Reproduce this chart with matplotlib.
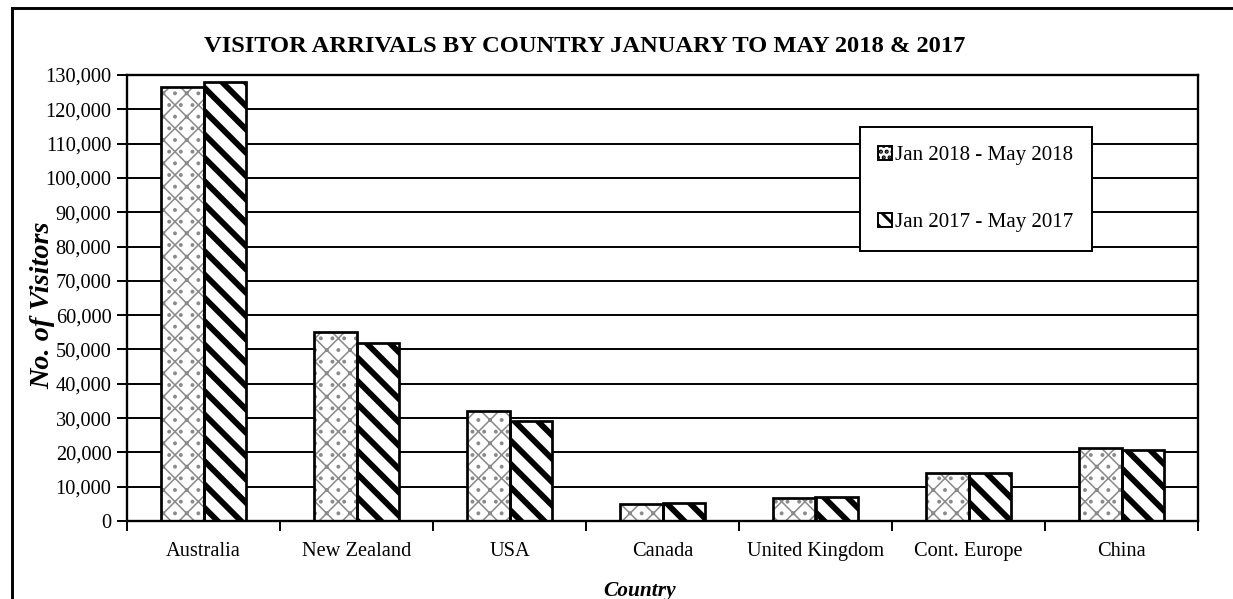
import matplotlib
matplotlib.use("Agg")
import matplotlib.pyplot as plt
import numpy as np
from matplotlib.ticker import FuncFormatter, FixedLocator
from matplotlib.lines import Line2D
from matplotlib.patches import Patch

countries = ["Australia", "New Zealand", "USA", "Canada", "United Kingdom",
             "Cont. Europe", "China"]
arrivals_2018 = [126500, 55000, 32000, 5100, 6600, 14000, 21400]
arrivals_2017 = [128000, 52000, 29200, 5300, 6900, 14000, 20700]
series_labels = ["Jan 2018 - May 2018", "Jan 2017 - May 2017"]

plt.rcParams.update({
    "font.family": "serif",
    "font.serif": ["Liberation Serif", "DejaVu Serif"],
})

DPI = 140
fig = plt.figure(figsize=(1233 / DPI, 599 / DPI), dpi=DPI)
ax = fig.add_axes([127 / 1233, 78 / 599, (1198 - 127) / 1233, (521 - 75) / 599])

x = np.arange(len(countries))
w = 0.28


def hatched(xpos, vals, hatch, hcolor, hlw):
    layer = ax.bar(xpos, vals, w, color="white", edgecolor=hcolor,
                   linewidth=0, hatch=hatch, zorder=2)
    for p in layer:
        if hasattr(p, "set_hatch_linewidth"):
            p.set_hatch_linewidth(hlw)
    ax.bar(xpos, vals, w, fill=False, edgecolor="black", linewidth=1.4,
           zorder=3)


plt.rcParams["hatch.linewidth"] = 0.8
hatched(x - w / 2, arrivals_2018, "xx..", "#8a8a8a", 0.8)
h18 = Patch(facecolor="white", edgecolor="black", hatch="....", lw=1.0)
plt.rcParams["hatch.linewidth"] = 3.0
hatched(x + w / 2, arrivals_2017, "\\\\", "black", 3.0)
plt.rcParams["hatch.linewidth"] = 1.5
h17 = Patch(facecolor="white", edgecolor="black", hatch="\\\\\\", lw=1.0)

ax.set_xlim(-0.5, len(countries) - 0.5)
ax.set_ylim(0, 130000)
ax.set_yticks(np.arange(0, 130001, 10000))
ax.yaxis.set_major_formatter(FuncFormatter(lambda v, p: f"{int(v):,}"))
ax.set_xticks(x)
ax.set_xticklabels(countries)
ax.xaxis.set_minor_locator(FixedLocator(np.arange(-0.5, len(countries), 1.0)))
ax.tick_params(axis="x", which="major", length=0, pad=11, labelsize=10.5)
ax.tick_params(axis="x", which="minor", length=5, width=1, direction="out")
ax.tick_params(axis="y", length=5, width=1, direction="out", labelsize=10.5,
               pad=3)
ax.yaxis.grid(True, color="black", linewidth=1.0, zorder=0)
ax.set_axisbelow(True)
for s in ax.spines.values():
    s.set_linewidth(1.2)
    s.set_color("black")

ax.set_ylabel("No. of Visitors", fontsize=14.5, fontweight="bold",
              fontstyle="italic")
ax.yaxis.set_label_coords((55 - 127) / 1071, (521 - 305) / 446)
ax.set_xlabel("Country", fontsize=11, fontweight="bold", fontstyle="italic")
ax.xaxis.set_label_coords((640 - 127) / 1071, -0.135)

leg = ax.legend([h18, h17], series_labels, loc="upper left",
                bbox_to_anchor=(0.684, 0.883), fontsize=10.8, frameon=True,
                fancybox=False, edgecolor="black", framealpha=1.0,
                handlelength=0.65, handleheight=0.65, handletextpad=0.15,
                labelspacing=2.25, borderpad=0.9, borderaxespad=0)
leg.get_frame().set_linewidth(1.0)

fig.text(585 / 1233, 1 - 47 / 599,
         "VISITOR ARRIVALS BY COUNTRY JANUARY TO MAY 2018 & 2017",
         ha="center", va="center", fontsize=12.6, fontweight="bold")

# page border (scan frame)
fig.add_artist(Line2D([12 / 1233, 12 / 1233], [0, 1 - 8 / 599],
                      transform=fig.transFigure, color="black", lw=1.5))
fig.add_artist(Line2D([12 / 1233, 1], [1 - 8 / 599, 1 - 8 / 599],
                      transform=fig.transFigure, color="black", lw=1.5))

fig.savefig("out.png", dpi=DPI, facecolor="white")
